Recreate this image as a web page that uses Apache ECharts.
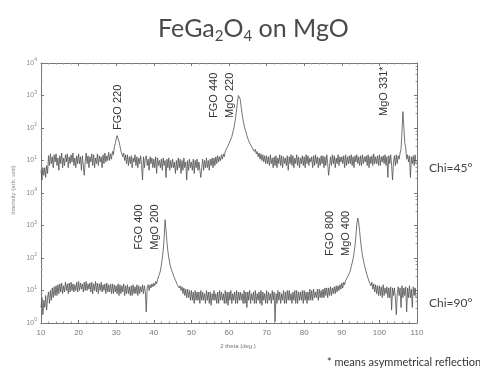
<!DOCTYPE html>
<html>
<head>
<meta charset="utf-8">
<script src="https://cdn.jsdelivr.net/npm/echarts@6/dist/echarts.min.js"></script>
<style>
  html, body { margin: 0; padding: 0; background: #fff; }
  #chart { width: 480px; height: 372px; }
</style>
</head>
<body>
<div id="chart"></div>
<script>
// 2theta scan, one reading every 0.25 deg starting at 10 deg
var startAngle = 10;
var stepAngle = 0.25;

// Chi = 45 deg (upper trace), counts, one row of four per degree
var countsChi45 = [
  5, 2.5, 6, 3.5,   6, 3, 7, 4,   14, 7, 16, 8,   13, 6, 15, 9,   16, 7, 12, 5,
  14, 8, 17, 6,   12, 7, 15, 9,   16, 6, 13, 8,   15, 9, 17, 7,   12, 6, 14, 8,
  16, 8, 13, 5,   14, 7, 3.5, 9,   17, 8, 14, 6,   13, 9, 16, 7,   15, 6, 12, 8,
  16, 7, 14, 9,   13, 6, 15, 8,   17, 9, 14, 10,   18, 10, 16, 11,   19, 15, 26, 33,
  46, 58, 52, 38,   28, 20, 19, 13,   17, 10, 15, 8,   15, 7, 13, 8,   14, 6, 12, 9,
  15, 7, 13, 6,   12, 8, 14, 7,   2.5, 13, 6, 12,   14, 7, 11, 5,   13, 8, 12, 6,
  11, 6, 13, 4,   12, 7, 10, 6,   11, 5, 12, 7,   10, 3, 11, 6,   12, 5, 10, 6,
  11, 6, 9, 4,   10, 5, 12, 6,   11, 4, 10, 5,   12, 6, 9, 2.5,   10, 5, 11, 6,
  9, 5, 11, 4,   10, 6, 11, 5,   9, 5, 3, 6,   11, 5, 10, 6,   12, 6, 10, 5,
  11, 7, 12, 6,   12, 7, 13, 8,   14, 9, 13, 10,   15, 11, 16, 13,   19, 17, 25, 24,
  33, 36, 46, 54,   72, 92, 138, 205,   360, 620, 1000, 1150,   760, 430, 260, 175,   125, 92, 77, 58,
  52, 40, 39, 30,   32, 24, 26, 19,   22, 16, 19, 13,   17, 11, 16, 10,   15, 9, 14, 8,
  14, 8, 13, 7,   15, 8, 12, 6,   13, 7, 14, 6,   12, 8, 15, 7,   14, 6, 13, 8,
  12, 7, 14, 5,   13, 8, 15, 7,   14, 6, 12, 8,   15, 7, 13, 6,   12, 8, 14, 7,
  13, 6, 15, 8,   14, 7, 12, 9,   13, 6, 14, 7,   15, 8, 13, 6,   12, 7, 14, 8,
  14, 6, 13, 7,   15, 8, 3.5, 7,   13, 7, 15, 8,   14, 6, 12, 8,   15, 7, 13, 9,
  13, 8, 14, 6,   15, 7, 13, 8,   14, 8, 15, 7,   13, 6, 14, 9,   15, 8, 13, 7,
  14, 7, 15, 8,   13, 9, 14, 7,   15, 6, 13, 8,   14, 7, 16, 8,   13, 8, 14, 7,
  15, 7, 13, 9,   14, 8, 15, 7,   13, 3, 14, 8,   15, 7, 2.5, 9,   14, 7, 15, 8,
  14, 11, 17, 22,   75, 320, 110, 35,   24, 11, 15, 9,   14, 3, 13, 8,   14, 7, 15, 8
];

// Chi = 90 deg (lower trace), counts, one row of four per degree
var countsChi90 = [
  3, 6, 1.8, 5,   3, 7, 2.5, 6,   9, 4, 10, 5,   12, 6, 13, 7,   14, 7, 15, 8,
  16, 9, 17, 8,   14, 9, 18, 10,   16, 8, 17, 9,   18, 10, 16, 9,   15, 10, 18, 9,
  19, 10, 17, 11,   16, 9, 18, 10,   19, 10, 16, 11,   17, 9, 18, 8,   16, 10, 19, 9,
  17, 8, 16, 10,   18, 9, 15, 10,   16, 8, 17, 9,   15, 9, 16, 8,   16, 8, 15, 9,
  14, 8, 16, 7,   15, 8, 14, 9,   16, 7, 14, 8,   15, 8, 13, 7,   14, 7, 15, 8,
  13, 8, 15, 7,   14, 8, 13, 9,   15, 8, 14, 9,   2.2, 13, 15, 10,   15, 12, 16, 13,
  17, 14, 19, 16,   22, 24, 32, 40,   60, 95, 170, 420,   1500, 700, 300, 160,   100, 70, 52, 42,
  35, 28, 27, 21,   21, 15, 17, 12,   14, 10, 13, 8,   12, 7, 11, 6,   11, 6, 10, 5,
  10, 5, 9, 4,   10, 5, 9, 5,   9, 4, 10, 5,   9, 5, 8, 4,   10, 5, 9, 4,
  9, 3.5, 8, 5,   10, 5, 8, 4,   9, 4, 10, 5,   9, 5, 8, 4,   10, 4, 9, 3.5,
  9, 5, 10, 4,   8, 5, 9, 4,   10, 4, 9, 5,   9, 5, 8, 4,   10, 4, 9, 3,
  9, 5, 10, 4,   8, 5, 9, 4,   10, 4, 8, 5,   9, 4, 10, 3.5,   9, 5, 8, 4,
  10, 4, 9, 5,   8, 4, 10, 5,   9, 1.1, 8, 4,   10, 5, 9, 4,   8, 5, 10, 4,
  9, 4, 10, 5,   10, 5, 8, 4,   9, 5, 10, 4,   10, 4, 9, 5,   9, 5, 10, 4,
  10, 5, 9, 4,   9, 5, 11, 5,   10, 5, 11, 6,   9, 6, 11, 5,   11, 6, 10, 6,
  11, 6, 12, 7,   12, 6, 12, 7,   13, 7, 12, 8,   13, 8, 14, 9,   14, 10, 15, 11,
  17, 12, 18, 15,   20, 18, 26, 25,   34, 40, 54, 70,   95, 140, 230, 480,   1100, 1700, 1200, 650,
  330, 190, 120, 85,   62, 46, 40, 29,   28, 19, 21, 14,   18, 11, 16, 9,   15, 8, 14, 7,
  14, 7, 13, 6,   15, 7, 12, 8,   13, 6, 12, 6,   13, 2.5, 12, 7,   12, 6, 1.8, 8,
  13, 7, 12, 3,   14, 6, 12, 7,   13, 2.2, 12, 6,   14, 6, 11, 3,   13, 7, 12, 6
];

// peak labels: [2theta, counts at the foot of the text, text]
var peaksChi45 = [
  [30.5, 87, 'FGO 220'],
  [58.0, 204, 'FGO 440\nMgO 220'],
  [101.2, 234, 'MgO 331*']
];
var peaksChi90 = [
  [38.1, 180, 'FGO 400\nMgO 200'],
  [89.1, 115, 'FGO 800\nMgO 400']
];

var xTicks = [10, 110, 10]; // min, max, step

function toPoints(counts) {
  return counts.map(function (v, i) { return [startAngle + i * stepAngle, v]; });
}

function peakMarks(peaks) {
  return {
    symbol: 'circle',
    symbolSize: 1,
    silent: true,
    itemStyle: { color: 'rgba(0,0,0,0)' },
    label: {
      show: true,
      position: 'inside',
      rotate: 90,
      align: 'left',
      verticalAlign: 'middle',
      formatter: '{b}',
      fontFamily: 'Liberation Sans',
      fontSize: 11,
      lineHeight: 16,
      color: '#333'
    },
    data: peaks.map(function (p) { return { name: p[2], coord: [p[0], p[1]] }; })
  };
}

var grey = '#777';

function expLabel(hideBottom) {
  return function (v) {
    var n = Math.round(Math.log(v) / Math.LN10);
    if (hideBottom && n === 0) return '';
    return '10{e|' + n + '}';
  };
}

function xAxisOf(grid, pos) {
  return {
    type: 'value', gridIndex: grid, position: pos,
    min: xTicks[0], max: xTicks[1], interval: xTicks[2],
    axisLine: { show: true, onZero: false, lineStyle: { color: grey, width: 1 } },
    axisTick: { show: true, inside: true, length: 3, lineStyle: { color: grey } },
    minorTick: { show: true, splitNumber: 5, length: 1.5, lineStyle: { color: '#999' } },
    splitLine: { show: false },
    axisLabel: pos === 'bottom' ? { show: true, fontSize: 8, color: '#777', margin: 6 } : { show: false },
    name: pos === 'bottom' ? '2 theta (deg.)' : '',
    nameLocation: 'middle',
    nameGap: 20,
    nameTextStyle: { fontSize: 6, color: '#777', padding: [0, 0, 0, 18] }
  };
}

function yAxisOf(grid, pos, hideBottom) {
  return {
    type: 'log', logBase: 10, gridIndex: grid, position: pos,
    min: 1, max: 10000,
    axisLine: { show: true, lineStyle: { color: grey, width: 1 } },
    axisTick: { show: true, inside: true, length: 3, lineStyle: { color: grey } },
    minorTick: { show: true, splitNumber: 5, length: 1.5, lineStyle: { color: '#999' } },
    splitLine: { show: false },
    axisLabel: pos === 'left' ? {
      show: true, fontSize: 7, color: '#888', margin: 4,
      formatter: expLabel(hideBottom),
      rich: { e: { fontSize: 5, color: '#888', padding: [0, 0, 6, 0] } }
    } : { show: false }
  };
}

var chart = echarts.init(document.getElementById('chart'));
chart.setOption({
  animation: false,
  backgroundColor: '#fff',
  title: {
    text: 'FeGa{sub|2}O{sub|4} on MgO',
    left: 153,
    top: 9,
    textStyle: {
      fontFamily: 'Lato', fontSize: 25, fontWeight: 'normal', color: '#4a4a4a',
      rich: { sub: { fontFamily: 'Lato', fontSize: 15, color: '#4a4a4a', padding: [15, 0, 0, 0] } }
    }
  },
  grid: [
    { left: 41, right: 63, top: 63, height: 130 },
    { left: 41, right: 63, top: 193, height: 130 }
  ],
  xAxis: [xAxisOf(0, 'top'), xAxisOf(1, 'bottom')],
  yAxis: [
    yAxisOf(0, 'left', true), yAxisOf(0, 'right'),
    yAxisOf(1, 'left', false), yAxisOf(1, 'right')
  ],
  series: [
    {
      name: 'Chi=45', type: 'line', xAxisIndex: 0, yAxisIndex: 0,
      data: toPoints(countsChi45), showSymbol: false, symbol: 'none',
      lineStyle: { color: '#505050', width: 0.8 },
      markPoint: peakMarks(peaksChi45)
    },
    {
      name: 'Chi=90', type: 'line', xAxisIndex: 1, yAxisIndex: 2,
      data: toPoints(countsChi90), showSymbol: false, symbol: 'none',
      lineStyle: { color: '#505050', width: 0.8 },
      markPoint: peakMarks(peaksChi90)
    }
  ],
  graphic: [
    { type: 'text', x: 13, y: 190, rotation: Math.PI / 2,
      style: { text: 'Intensity (arb. unit)', fontSize: 6, fill: '#888', align: 'center', verticalAlign: 'middle' } },
    { type: 'text', left: 429, top: 162,
      style: { text: 'Chi=45°', fontFamily: 'Lato', fontSize: 12, fill: '#444' } },
    { type: 'text', left: 429, top: 297,
      style: { text: 'Chi=90°', fontFamily: 'Lato', fontSize: 12, fill: '#444' } },
    { type: 'text', left: 327, top: 357,
      style: { text: '* means asymmetrical reflection', fontFamily: 'Lato', fontSize: 11, fill: '#333' } }
  ]
});
</script>
</body>
</html>
